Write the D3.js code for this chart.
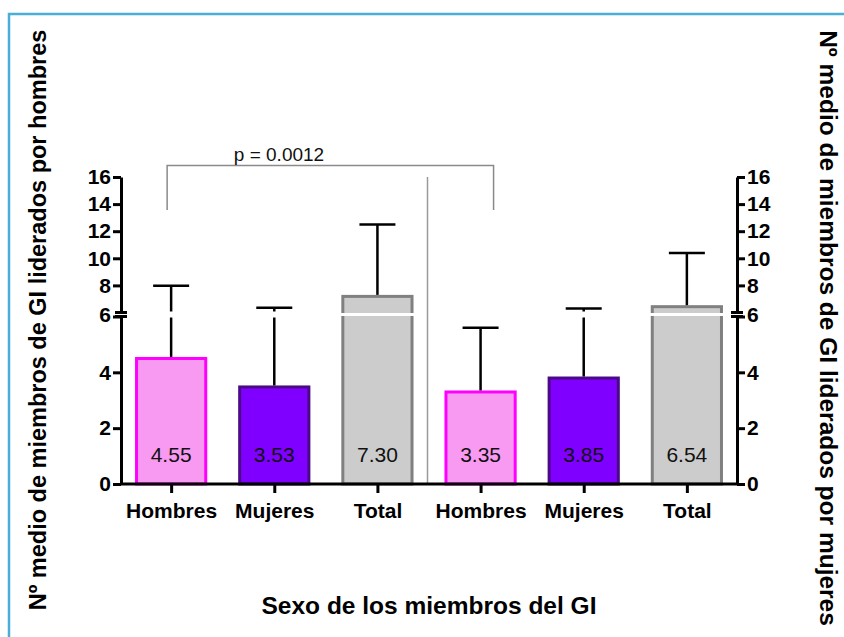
<!DOCTYPE html>
<html>
<head>
<meta charset="utf-8">
<script src="https://cdn.jsdelivr.net/npm/d3@7"></script>
<style>
  body { margin: 0; background: #fff; }
  svg { display: block; font-family: "Liberation Sans", Arial, sans-serif; }
  .axis text { font-size: 21px; font-weight: bold; fill: #000; }
  .axis path, .axis line { stroke: #000; stroke-width: 3; }
</style>
</head>
<body>
<div id="chart"></div>
<script>
// data
const categories = ["Hombres", "Mujeres", "Total", "Hombres", "Mujeres", "Total"];
const groupKeys = ["h1", "m1", "t1", "h2", "m2", "t2"];
const means = [4.55, 3.53, 7.30, 3.35, 3.85, 6.54];
const upperSD = [7.98, 6.35, 12.5, 5.6, 6.3, 10.4];
const kinds = ["hombres", "mujeres", "total", "hombres", "mujeres", "total"];
const lowTicks = [0, 2, 4, 6];
const highTicks = [8, 10, 12, 14, 16];
const pLabel = "p = 0.0012";

const width = 844, height = 637;
const colors = {
  hombres: { fill: "#f99af2", stroke: "#ff00ff" },
  mujeres: { fill: "#8000ff", stroke: "#4a0a86" },
  total:   { fill: "#cccccc", stroke: "#808080" }
};

const svg = d3.select("#chart").append("svg")
  .attr("width", width)
  .attr("height", height);

// frame
svg.append("path")
  .attr("d", "M9," + height + " V14 H" + width)
  .attr("fill", "none")
  .attr("stroke", "#4aaed6")
  .attr("stroke-width", 2.5);

const left = 121, right = 737;
const x = d3.scalePoint()
  .domain(groupKeys)
  .range([left, right])
  .padding(0.486);
const barW = x.step() * 0.7;

// broken y axis: two segments
const yLow = d3.scaleLinear().domain([0, 6]).range([484, 316.5]);
const yHigh = d3.scaleLinear().domain([6, 16]).range([312.5, 177]);
function y(v) { return v <= 6 ? yLow(v) : yHigh(v); }
const breakTop = yHigh(6), breakBottom = yLow(6);

// separator line
svg.append("line")
  .attr("x1", 427.5).attr("x2", 427.5)
  .attr("y1", yHigh(16)).attr("y2", yLow(0))
  .attr("stroke", "#9a9a9a")
  .attr("stroke-width", 1.5);

// bars
const data = groupKeys.map((k, i) => ({ key: k, label: categories[i], mean: means[i], sd: upperSD[i], kind: kinds[i] }));

const bars = svg.append("g").selectAll("g")
  .data(data)
  .enter().append("g");

bars.append("rect")
  .attr("x", d => x(d.key) - barW / 2 + 1.5)
  .attr("width", barW - 3)
  .attr("y", d => y(d.mean) + 1.5)
  .attr("height", d => yLow(0) - y(d.mean) - 1.5)
  .attr("fill", d => colors[d.kind].fill)
  .attr("stroke", d => colors[d.kind].stroke)
  .attr("stroke-width", 3);

// white gap where bars cross the axis break
bars.filter(d => d.mean > 6).append("rect")
  .attr("x", d => x(d.key) - barW / 2 - 1)
  .attr("width", barW + 2)
  .attr("y", breakTop + 0.5)
  .attr("height", breakBottom - breakTop - 1)
  .attr("fill", "#fff");

// error bars (upper only), broken at the axis break
bars.each(function (d) {
  const g = d3.select(this);
  const cx = x(d.key);
  const top = y(d.sd), base = y(d.mean);
  if (d.sd > 6 && d.mean < 6) {
    g.append("line").attr("x1", cx).attr("x2", cx).attr("y1", top).attr("y2", breakTop - 1);
    g.append("line").attr("x1", cx).attr("x2", cx).attr("y1", breakBottom + 1).attr("y2", base);
  } else {
    g.append("line").attr("x1", cx).attr("x2", cx).attr("y1", top).attr("y2", base);
  }
  g.append("line").attr("x1", cx - 18).attr("x2", cx + 18).attr("y1", top).attr("y2", top);
  g.selectAll("line").attr("stroke", "#000").attr("stroke-width", 2.5);
});

// value labels
bars.append("text")
  .attr("x", d => x(d.key))
  .attr("y", 462)
  .attr("text-anchor", "middle")
  .attr("font-size", 21)
  .attr("fill", "#111")
  .text(d => d.mean.toFixed(2));

// axes
function drawYAxis(axisFn, xpos) {
  const g = svg.append("g").attr("class", "axis").attr("transform", "translate(" + xpos + ",0)");
  g.append("g").call(axisFn(yLow).tickValues(lowTicks).tickFormat(d3.format("d")).tickSize(8).tickSizeOuter(0).tickPadding(2));
  g.append("g").call(axisFn(yHigh).tickValues(highTicks).tickFormat(d3.format("d")).tickSize(8).tickSizeOuter(0).tickPadding(2));
  // break marks
  [breakTop, breakBottom].forEach(v => {
    g.append("line").attr("x1", -6).attr("x2", 6).attr("y1", v).attr("y2", v);
  });
  // label for 6 in the middle of the break
  g.selectAll("text").filter(t => t === 6).attr("y", (breakTop - breakBottom) / 2);
  return g;
}
drawYAxis(d3.axisLeft, left);
drawYAxis(d3.axisRight, right);

const xAxisG = svg.append("g")
  .attr("class", "axis")
  .attr("transform", "translate(0," + yLow(0) + ")")
  .call(d3.axisBottom(x).tickSize(9).tickSizeOuter(0).tickPadding(6).tickFormat((k, i) => categories[i]));
xAxisG.select(".domain").attr("d", "M" + left + ",0H" + right);
xAxisG.selectAll(".tick text").attr("font-size", 21).attr("dy", "0.9em");

// significance bracket
const bx1 = x("h1") - 4, bx2 = x("h2") + 13;
svg.append("path")
  .attr("d", "M" + bx1 + ",210 V165.5 H" + bx2 + " V210")
  .attr("fill", "none")
  .attr("stroke", "#8a8a8a")
  .attr("stroke-width", 1.5);
svg.append("text")
  .attr("x", 279)
  .attr("y", 161)
  .attr("text-anchor", "middle")
  .attr("font-size", 19)
  .attr("fill", "#111")
  .text(pLabel);

// titles
svg.append("text")
  .attr("transform", "translate(46,320) rotate(-90)")
  .attr("text-anchor", "middle")
  .attr("font-size", 23.5)
  .attr("font-weight", "bold")
  .text("Nº medio de miembros de GI liderados por hombres");

svg.append("text")
  .attr("transform", "translate(820,328) rotate(90)")
  .attr("text-anchor", "middle")
  .attr("font-size", 24.5)
  .attr("font-weight", "bold")
  .text("Nº medio de miembros de GI liderados por mujeres");

svg.append("text")
  .attr("x", 429)
  .attr("y", 614)
  .attr("text-anchor", "middle")
  .attr("font-size", 24.5)
  .attr("font-weight", "bold")
  .text("Sexo de los miembros del GI");
</script>
</body>
</html>
